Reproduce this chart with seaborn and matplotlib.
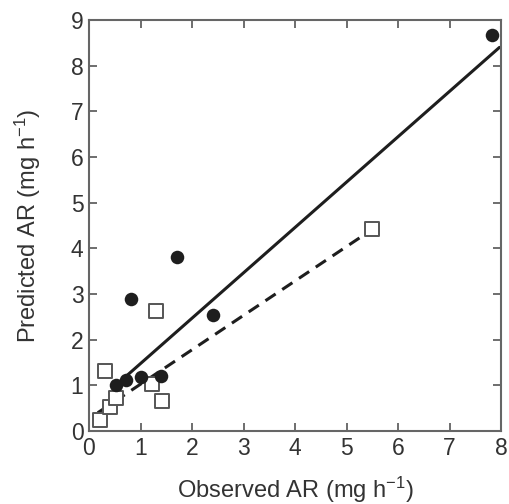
import numpy as np
import pandas as pd
import matplotlib
matplotlib.use("Agg")
import matplotlib.pyplot as plt
import seaborn as sns

# Filled circles
circ_obs = [0.52, 0.72, 1.01, 1.40, 0.81, 1.71, 2.41, 7.83]
circ_pred = [1.01, 1.12, 1.19, 1.20, 2.90, 3.81, 2.55, 8.67]
# Open squares
sq_obs = [0.21, 0.41, 0.52, 0.31, 1.22, 1.41, 1.31, 5.50]
sq_pred = [0.23, 0.53, 0.72, 1.31, 1.04, 0.66, 2.63, 4.42]
# Fitted lines (endpoints)
solid_x = [0.50, 7.97]
solid_y = [0.98, 8.40]
dash_x = [0.17, 5.52]
dash_y = [0.40, 4.43]

xticks = [0, 1, 2, 3, 4, 5, 6, 7, 8]
yticks = [0, 1, 2, 3, 4, 5, 6, 7, 8, 9]

sns.set_theme(style="ticks")
plt.rcParams['font.family'] = ['Liberation Sans', 'DejaVu Sans']
plt.rcParams['mathtext.fontset'] = 'custom'
plt.rcParams['mathtext.rm'] = 'Liberation Sans'
plt.rcParams['mathtext.it'] = 'Liberation Sans:italic'

fig = plt.figure(figsize=(5.10, 5.04), dpi=100)
ax = fig.add_axes([89/510, 1 - 431/504, 412/510, 411/504])

sns.lineplot(x=solid_x, y=solid_y, ax=ax, color="#1e1e1e", lw=2.2, zorder=2)
sns.lineplot(x=dash_x, y=dash_y, ax=ax, color="#1e1e1e", lw=2.2, zorder=2)
ax.lines[-1].set_dashes([4.0, 2.6])

sns.scatterplot(x=sq_obs, y=sq_pred, ax=ax, marker="s", s=92,
                facecolor="white", edgecolor="#555555", linewidth=1.4, zorder=3)
sns.scatterplot(x=circ_obs, y=circ_pred, ax=ax, marker="o", s=95,
                color="#1e1e1e", edgecolor="#1e1e1e", linewidth=0, zorder=4)

ax.set_xlim(0, 8)
ax.set_ylim(0, 9)
ax.set_xticks(xticks)
ax.set_yticks(yticks)
ax.tick_params(direction="in", length=6, width=1.2, color="#555555",
               top=True, right=True, labelsize=16.5, labelcolor="#333333", pad=4)
for s in ax.spines.values():
    s.set_color("#666666")
    s.set_linewidth(1.5)
ax.set_xlabel(r"Observed AR (mg h$^{-1}$)", fontsize=17, color="#333333", labelpad=11)
ax.set_ylabel(r"Predicted AR (mg h$^{-1}$)", fontsize=17, color="#333333", labelpad=20)

fig.savefig("out.png", dpi=100)
